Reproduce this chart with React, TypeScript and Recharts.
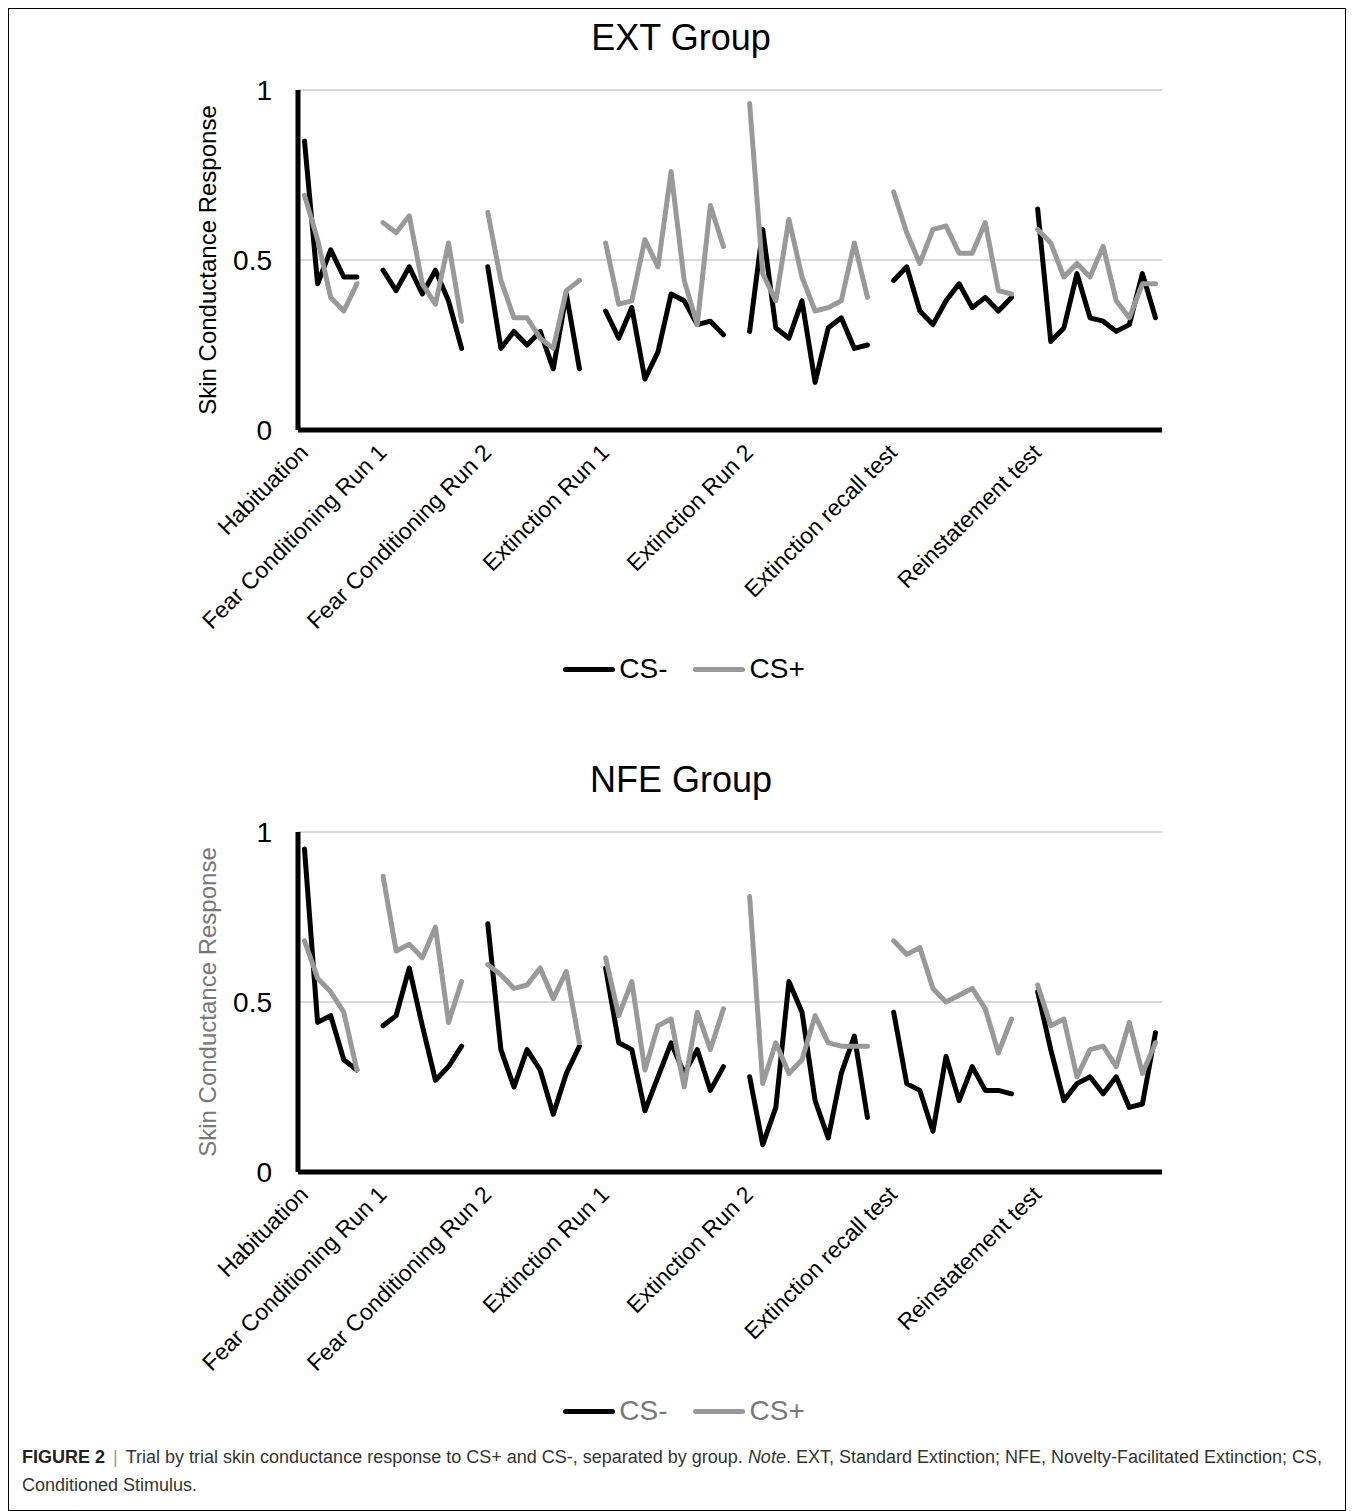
import React from 'react';
import { LineChart, Line, XAxis, YAxis, CartesianGrid } from 'recharts';

const FONT = '"Liberation Sans", Arial, Helvetica, sans-serif';

const PHASES = [
  'Habituation',
  'Fear Conditioning Run 1',
  'Fear Conditioning Run 2',
  'Extinction Run 1',
  'Extinction Run 2',
  'Extinction recall test',
  'Reinstatement test',
];
const TRIALS = [5, 7, 8, 10, 10, 10, 10];
const Y_TICKS = [0, 0.5, 1];

// EXT group, trial by trial
const extCsMinus = [
  0.85, 0.43, 0.53, 0.45, 0.45,
  0.47, 0.41, 0.48, 0.40, 0.47, 0.38, 0.24,
  0.48, 0.24, 0.29, 0.25, 0.29, 0.18, 0.40, 0.18,
  0.35, 0.27, 0.36, 0.15, 0.23, 0.40, 0.38, 0.31, 0.32, 0.28,
  0.29, 0.59, 0.30, 0.27, 0.38, 0.14, 0.30, 0.33, 0.24, 0.25,
  0.44, 0.48, 0.35, 0.31, 0.38, 0.43, 0.36, 0.39, 0.35, 0.39,
  0.65, 0.26, 0.30, 0.46, 0.33, 0.32, 0.29, 0.31, 0.46, 0.33,
];
const extCsPlus = [
  0.69, 0.56, 0.39, 0.35, 0.43,
  0.61, 0.58, 0.63, 0.43, 0.37, 0.55, 0.32,
  0.64, 0.44, 0.33, 0.33, 0.27, 0.24, 0.41, 0.44,
  0.55, 0.37, 0.38, 0.56, 0.48, 0.76, 0.44, 0.31, 0.66, 0.54,
  0.96, 0.46, 0.38, 0.62, 0.45, 0.35, 0.36, 0.38, 0.55, 0.39,
  0.70, 0.58, 0.49, 0.59, 0.60, 0.52, 0.52, 0.61, 0.41, 0.40,
  0.59, 0.55, 0.45, 0.49, 0.45, 0.54, 0.38, 0.33, 0.43, 0.43,
];

// NFE group, trial by trial
const nfeCsMinus = [
  0.95, 0.44, 0.46, 0.33, 0.30,
  0.43, 0.46, 0.60, 0.43, 0.27, 0.31, 0.37,
  0.73, 0.36, 0.25, 0.36, 0.30, 0.17, 0.29, 0.37,
  0.60, 0.38, 0.36, 0.18, 0.28, 0.38, 0.29, 0.36, 0.24, 0.31,
  0.28, 0.08, 0.19, 0.56, 0.47, 0.21, 0.10, 0.29, 0.40, 0.16,
  0.47, 0.26, 0.24, 0.12, 0.34, 0.21, 0.31, 0.24, 0.24, 0.23,
  0.53, 0.36, 0.21, 0.26, 0.28, 0.23, 0.28, 0.19, 0.20, 0.41,
];
const nfeCsPlus = [
  0.68, 0.57, 0.53, 0.47, 0.30,
  0.87, 0.65, 0.67, 0.63, 0.72, 0.44, 0.56,
  0.61, 0.58, 0.54, 0.55, 0.60, 0.51, 0.59, 0.38,
  0.63, 0.46, 0.56, 0.30, 0.43, 0.45, 0.25, 0.47, 0.36, 0.48,
  0.81, 0.26, 0.38, 0.29, 0.33, 0.46, 0.38, 0.37, 0.37, 0.37,
  0.68, 0.64, 0.66, 0.54, 0.50, 0.52, 0.54, 0.48, 0.35, 0.45,
  0.55, 0.43, 0.45, 0.28, 0.36, 0.37, 0.31, 0.44, 0.29, 0.38,
];

const BLACK = '#000000';
const GREY = '#999999';

// one row per trial, plus an empty slot between phases (Excel leaves a gap)
function buildRows(minus: number[], plus: number[]) {
  const rows: any[] = [];
  let k = 0;
  PHASES.forEach((name, p) => {
    for (let t = 0; t < TRIALS[p]; t++) {
      rows.push({ i: rows.length, label: t === 0 ? name : '', minus: minus[k], plus: plus[k] });
      k++;
    }
    if (p < PHASES.length - 1) rows.push({ i: rows.length, label: '', minus: null, plus: null });
  });
  return rows;
}

function PhaseTick(props: any) {
  const { x, y, payload, rows } = props;
  const label = rows[payload.value]?.label;
  if (!label) return null;
  const ax = x + 5;
  const ay = y + 16;
  return (
    <text
      x={ax}
      y={ay}
      textAnchor="end"
      transform={`rotate(-45, ${ax}, ${ay})`}
      fontSize={23}
      fontFamily={FONT}
      fill="#000"
    >
      {label}
    </text>
  );
}

function LegendKey({ color, text, textColor }: { color: string; text: string; textColor: string }) {
  return (
    <div style={{ display: 'flex', alignItems: 'center' }}>
      <div style={{ width: 52, height: 5, borderRadius: 3, background: color, marginRight: 4 }} />
      <span style={{ color: textColor }}>{text}</span>
    </div>
  );
}

function GroupChart({ title, minus, plus, offset, muted }: any) {
  const rows = buildRows(minus, plus);
  const softText = muted ? '#777777' : '#000000';
  return (
    <>
      <div
        style={{
          position: 'absolute', left: 0, top: 12 + offset, width: 1346,
          textAlign: 'center', fontSize: 36, lineHeight: '36px', fontFamily: FONT, color: '#000',
        }}
      >
        {title}
      </div>
      <div
        style={{
          position: 'absolute', left: 200, top: 252 + offset,
          transform: 'translate(-50%, -50%) rotate(-90deg)', whiteSpace: 'nowrap',
          fontSize: 24, fontFamily: FONT, color: softText,
        }}
      >
        Skin Conductance Response
      </div>
      <div style={{ position: 'absolute', left: 0, top: 62 + offset }}>
        <LineChart
          width={1330}
          height={580}
          data={rows}
          margin={{ top: 20, right: 176, left: 210, bottom: 20 }}
          style={{ fontFamily: FONT, overflow: 'visible' }}
        >
          <CartesianGrid vertical={false} stroke="#d9d9d9" strokeWidth={2} />
          <XAxis
            dataKey="i"
            type="category"
            interval={0}
            height={200}
            padding={{ left: 6.5, right: 6.5 }}
            tickLine={false}
            axisLine={{ stroke: '#000', strokeWidth: 5 }}
            tick={(p: any) => <PhaseTick {...p} rows={rows} />}
          />
          <YAxis
            type="number"
            domain={[0, 1]}
            ticks={Y_TICKS}
            width={80}
            tickLine={false}
            tickMargin={20}
            axisLine={{ stroke: '#000', strokeWidth: 5 }}
            tick={{ fontSize: 28, fill: '#000', fontFamily: FONT }}
            tickFormatter={(v: number) => String(v)}
          />
          <Line
            type="linear"
            dataKey="minus"
            name="CS-"
            stroke={BLACK}
            strokeWidth={5}
            strokeLinejoin="round"
            strokeLinecap="round"
            dot={false}
            isAnimationActive={false}
          />
          <Line
            type="linear"
            dataKey="plus"
            name="CS+"
            stroke={GREY}
            strokeWidth={5}
            strokeLinejoin="round"
            strokeLinecap="round"
            dot={false}
            isAnimationActive={false}
          />
        </LineChart>
      </div>
      <div
        style={{
          position: 'absolute', left: 0, top: 644 + offset, width: 1352, height: 34,
          display: 'flex', justifyContent: 'center', alignItems: 'center', gap: 26,
          fontSize: 28, fontFamily: FONT,
        }}
      >
        <LegendKey color={BLACK} text="CS-" textColor={softText} />
        <LegendKey color={GREY} text="CS+" textColor={softText} />
      </div>
    </>
  );
}

export default function App() {
  return (
    <div style={{ position: 'relative', width: 1338, height: 1503, fontFamily: FONT }}>
      <div
        style={{
          position: 'absolute', left: 0, top: 0, width: 1338, height: 1503,
          border: '1px solid #000', boxSizing: 'border-box',
        }}
      />
      <GroupChart title="EXT Group" minus={extCsMinus} plus={extCsPlus} offset={0} muted={false} />
      <GroupChart title="NFE Group" minus={nfeCsMinus} plus={nfeCsPlus} offset={742} muted />
      <div
        style={{
          position: 'absolute', left: 14, top: 1435, width: 1330,
          fontSize: 18, lineHeight: '28px', color: '#333', fontFamily: FONT,
        }}
      >
        <b style={{ color: '#222' }}>FIGURE 2</b>
        <span style={{ color: '#999', margin: '0 8px' }}>|</span>
        Trial by trial skin conductance response to CS+ and CS-, separated by group. <i>Note</i>. EXT,
        Standard Extinction; NFE, Novelty-Facilitated Extinction; CS,
        <br />
        Conditioned Stimulus.
      </div>
    </div>
  );
}
